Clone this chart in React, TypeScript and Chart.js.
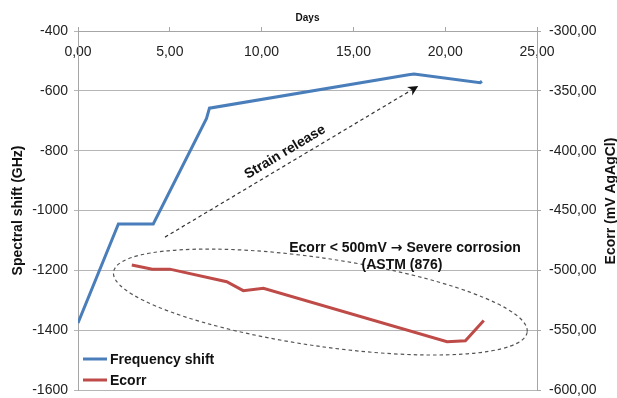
import React, { useEffect, useRef } from "react";
import { Chart, registerables } from "chart.js";

Chart.register(...registerables);

// ---- data ----
const freqDays = [0, 2.2, 4.1, 7.0, 7.16, 18.0, 18.3, 21.9, 22.0];
const freqShift = [-1376, -1045, -1045, -692, -658, -546, -544, -573, -568];
const ecorrDays = [2.93, 4.05, 5.0, 8.1, 9.0, 10.1, 20.1, 21.1, 22.1];
const ecorrValues = [-495.5, -499, -499, -509.5, -517, -515, -559.7, -558.8, -542];
const seriesNames = ["Frequency shift", "Ecorr"];
const xTicks = [0, 5, 10, 15, 20, 25];
const leftTicks = [-1600, -1400, -1200, -1000, -800, -600, -400];
const rightTicks = [-600, -550, -500, -450, -400, -350, -300];
const xTitle = "Days";
const leftTitle = "Spectral shift (GHz)";
const rightTitle = "Ecorr (mV AgAgCl)";
const arrowLabel = "Strain release";
const noteParts = ["Ecorr < 500mV ", "\u2192", " Severe corrosion"];
const noteLine2 = "(ASTM (876)";
// annotation anchors in data units
const arrowFrom = [4.74, -1089]; // days, GHz
const arrowTo = [18.53, -584];
const ellipseCenter = [13.2, -526.5]; // days, mV

const FONT = "'Liberation Sans', Arial, Helvetica, sans-serif";
const BLUE = "#4a7ebb";
const RED = "#be4b48";

const comma2 = (v: number) => v.toFixed(2).replace(".", ",");

const annotPlugin = {
  id: "annot",
  afterDatasetsDraw(chart: any) {
    const { ctx, scales } = chart;
    const x = scales.x, y = scales.y, y1 = scales.y1;
    ctx.save();
    // dashed ellipse
    ctx.setLineDash([3.5, 3]);
    ctx.strokeStyle = "#555";
    ctx.lineWidth = 1.2;
    const cx = x.getPixelForValue(ellipseCenter[0]);
    const cy = y1.getPixelForValue(ellipseCenter[1]);
    ctx.beginPath();
    ctx.ellipse(cx, cy, 209, 44, (8.3 * Math.PI) / 180, 0, Math.PI * 2);
    ctx.stroke();
    // dashed arrow
    const x0 = x.getPixelForValue(arrowFrom[0]);
    const y0 = y.getPixelForValue(arrowFrom[1]);
    const x2 = x.getPixelForValue(arrowTo[0]);
    const y2 = y.getPixelForValue(arrowTo[1]);
    const ang = Math.atan2(y2 - y0, x2 - x0);
    ctx.strokeStyle = "#333";
    ctx.beginPath();
    ctx.moveTo(x0, y0);
    ctx.lineTo(x2 - 6 * Math.cos(ang), y2 - 6 * Math.sin(ang));
    ctx.stroke();
    ctx.setLineDash([]);
    ctx.fillStyle = "#111";
    ctx.translate(x2, y2);
    ctx.rotate(ang);
    ctx.beginPath();
    ctx.moveTo(0, 0);
    ctx.lineTo(-10, -5);
    ctx.lineTo(-7, 0);
    ctx.lineTo(-10, 5);
    ctx.closePath();
    ctx.fill();
    ctx.restore();

    // arrow label
    ctx.save();
    ctx.font = `bold 14px ${FONT}`;
    ctx.fillStyle = "#111";
    ctx.textAlign = "center";
    ctx.textBaseline = "middle";
    ctx.translate(285, 152);
    ctx.rotate((-31 * Math.PI) / 180);
    ctx.fillText(arrowLabel, 0, 0);
    ctx.restore();

    // note text (arrow glyph in a font with a larger arrow)
    ctx.save();
    ctx.fillStyle = "#111";
    ctx.textBaseline = "middle";
    ctx.textAlign = "left";
    const fMain = `bold 14px ${FONT}`;
    const fArrow = `bold 14px 'DejaVu Sans', sans-serif`;
    ctx.font = fMain;
    const w0 = ctx.measureText(noteParts[0]).width;
    const w2 = ctx.measureText(noteParts[2]).width;
    ctx.font = fArrow;
    const w1 = ctx.measureText(noteParts[1]).width;
    let sx = 405 - (w0 + w1 + w2) / 2;
    ctx.font = fMain;
    ctx.fillText(noteParts[0], sx, 248);
    sx += w0;
    ctx.font = fArrow;
    ctx.fillText(noteParts[1], sx, 248);
    sx += w1;
    ctx.font = fMain;
    ctx.fillText(noteParts[2], sx, 248);
    ctx.textAlign = "center";
    ctx.fillText(noteLine2, 402, 265);
    ctx.restore();
  },
  afterDraw(chart: any) {
    const { ctx } = chart;
    // legend
    ctx.save();
    ctx.font = `bold 14px ${FONT}`;
    ctx.textBaseline = "middle";
    ctx.textAlign = "left";
    const ys = [359, 380];
    chart.data.datasets.forEach((ds: any, i: number) => {
      ctx.strokeStyle = ds.borderColor;
      ctx.lineWidth = 3;
      ctx.beginPath();
      ctx.moveTo(83, ys[i]);
      ctx.lineTo(107, ys[i]);
      ctx.stroke();
      ctx.fillStyle = "#111";
      ctx.fillText(ds.label, 110, ys[i] + 1);
    });
    ctx.restore();
    // right axis title (reads bottom-to-top)
    ctx.save();
    ctx.font = `bold 14px ${FONT}`;
    ctx.fillStyle = "#111";
    ctx.textAlign = "center";
    ctx.textBaseline = "middle";
    ctx.translate(611, 201);
    ctx.rotate(-Math.PI / 2);
    ctx.fillText(rightTitle, 0, 0);
    ctx.restore();
  },
};

export default function App() {
  const ref = useRef<HTMLCanvasElement | null>(null);
  useEffect(() => {
    document.body.style.margin = "0";
    const canvas = ref.current!;
    const tickFont = { family: FONT, size: 14 };
    const noPad = (s: any) => {
      s.paddingTop = 0;
      s.paddingBottom = 0;
    };
    const chart = new Chart(canvas, {
      type: "line",
      data: {
        datasets: [
          {
            label: seriesNames[0],
            data: freqDays.map((d, i) => ({ x: d, y: freqShift[i] })),
            borderColor: BLUE,
            backgroundColor: BLUE,
            borderWidth: 3,
            pointRadius: 0,
            tension: 0,
            yAxisID: "y",
          },
          {
            label: seriesNames[1],
            data: ecorrDays.map((d, i) => ({ x: d, y: ecorrValues[i] })),
            borderColor: RED,
            backgroundColor: RED,
            borderWidth: 3,
            pointRadius: 0,
            tension: 0,
            yAxisID: "y1",
          },
        ],
      },
      options: {
        animation: false,
        responsive: false,
        layout: { padding: { left: 0, right: 0, top: 0, bottom: 8 } },
        plugins: { legend: { display: false }, tooltip: { enabled: false } },
        scales: {
          x: {
            type: "linear",
            position: "top",
            min: 0,
            max: 25,
            afterBuildTicks: (s: any) => {
              s.ticks = xTicks.map((v) => ({ value: v }));
            },
            afterFit: (s: any) => {
              s.height = 31;
              s.paddingLeft = 0;
              s.paddingRight = 0;
            },
            ticks: {
              mirror: true,
              padding: 13,
              font: tickFont,
              color: "#222",
              maxRotation: 0,
              callback: (v: any) => comma2(Number(v)),
            },
            grid: {
              drawOnChartArea: false,
              drawTicks: true,
              tickLength: 4,
              color: "#a6a6a6",
            },
            border: { color: "#a6a6a6", width: 1 },
            title: {
              display: true,
              text: xTitle,
              font: { family: FONT, size: 10, weight: "bold" },
              color: "#111",
              padding: { top: 12, bottom: 0 },
            },
          },
          y: {
            type: "linear",
            position: "left",
            min: -1600,
            max: -400,
            afterBuildTicks: (s: any) => {
              s.ticks = leftTicks.map((v) => ({ value: v }));
            },
            afterFit: (s: any) => {
              s.width = 78;
              noPad(s);
            },
            ticks: {
              font: tickFont,
              color: "#222",
              padding: 6,
              callback: (v: any) => String(v),
            },
            grid: { color: "#b5b5b5", tickLength: 4, lineWidth: 1 },
            border: { color: "#a6a6a6" },
            title: {
              display: true,
              text: leftTitle,
              font: { family: FONT, size: 14, weight: "bold" },
              color: "#111",
              padding: { top: 10, bottom: 0 },
            },
          },
          y1: {
            type: "linear",
            position: "right",
            min: -600,
            max: -300,
            afterBuildTicks: (s: any) => {
              s.ticks = rightTicks.map((v) => ({ value: v }));
            },
            afterFit: (s: any) => {
              s.width = 80;
              noPad(s);
            },
            ticks: {
              font: tickFont,
              color: "#222",
              padding: 8,
              callback: (v: any) => comma2(Number(v)),
            },
            grid: { drawOnChartArea: false, tickLength: 4, color: "#a6a6a6" },
            border: { color: "#a6a6a6" },
          },
        },
      },
      plugins: [annotPlugin],
    } as any);
    return () => chart.destroy();
  }, []);
  return <canvas ref={ref} width={617} height={398} style={{ display: "block" }} />;
}
